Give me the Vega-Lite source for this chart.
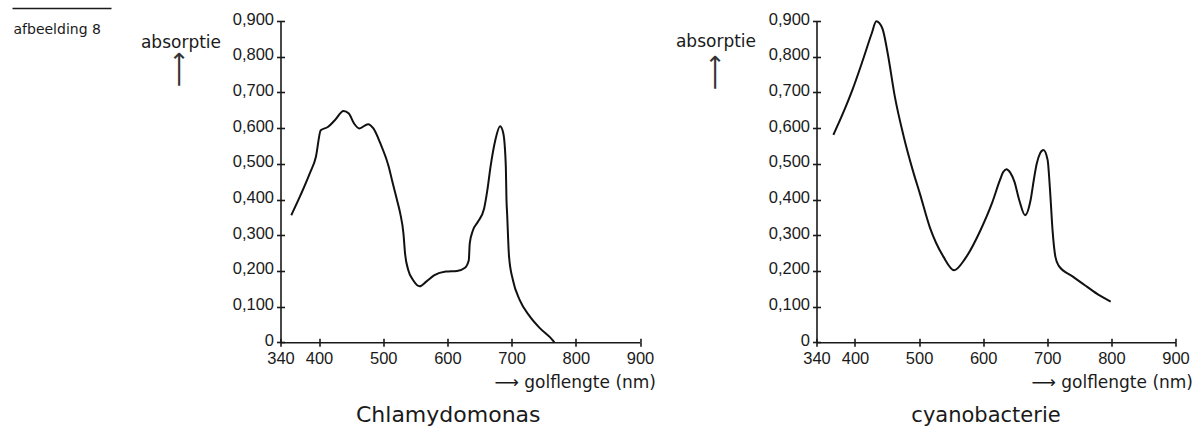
{
  "$schema": "https://vega.github.io/schema/vega-lite/v6.json",
  "background": "white",
  "padding": {"left": 12, "top": 8, "right": 0, "bottom": 0},
  "datasets": {
    "chlamy": [
      {"wavelength": 356.8, "absorption": 0.356},
      {"wavelength": 371.2, "absorption": 0.412},
      {"wavelength": 385.6, "absorption": 0.473},
      {"wavelength": 395.2, "absorption": 0.520},
      {"wavelength": 402.7, "absorption": 0.594},
      {"wavelength": 413.7, "absorption": 0.603},
      {"wavelength": 424.6, "absorption": 0.622},
      {"wavelength": 438.2, "absorption": 0.648},
      {"wavelength": 446.4, "absorption": 0.641},
      {"wavelength": 454.6, "absorption": 0.613},
      {"wavelength": 462.8, "absorption": 0.599},
      {"wavelength": 476.5, "absorption": 0.611},
      {"wavelength": 484.7, "absorption": 0.599},
      {"wavelength": 495.6, "absorption": 0.557},
      {"wavelength": 508.6, "absorption": 0.492},
      {"wavelength": 514.0, "absorption": 0.452},
      {"wavelength": 521.3, "absorption": 0.400},
      {"wavelength": 526.4, "absorption": 0.362},
      {"wavelength": 531.5, "absorption": 0.305},
      {"wavelength": 534.0, "absorption": 0.249},
      {"wavelength": 539.1, "absorption": 0.202},
      {"wavelength": 546.7, "absorption": 0.174},
      {"wavelength": 556.8, "absorption": 0.157},
      {"wavelength": 567.0, "absorption": 0.170},
      {"wavelength": 579.7, "absorption": 0.188},
      {"wavelength": 597.5, "absorption": 0.198},
      {"wavelength": 614.9, "absorption": 0.200},
      {"wavelength": 627.4, "absorption": 0.209},
      {"wavelength": 633.3, "absorption": 0.230},
      {"wavelength": 634.8, "absorption": 0.277},
      {"wavelength": 639.8, "absorption": 0.314},
      {"wavelength": 647.3, "absorption": 0.337},
      {"wavelength": 657.2, "absorption": 0.375},
      {"wavelength": 662.2, "absorption": 0.426},
      {"wavelength": 667.2, "absorption": 0.492},
      {"wavelength": 674.6, "absorption": 0.566},
      {"wavelength": 682.1, "absorption": 0.605},
      {"wavelength": 687.1, "absorption": 0.585},
      {"wavelength": 691.0, "absorption": 0.492},
      {"wavelength": 692.0, "absorption": 0.400},
      {"wavelength": 693.0, "absorption": 0.361},
      {"wavelength": 696.0, "absorption": 0.240},
      {"wavelength": 702.1, "absorption": 0.174},
      {"wavelength": 712.7, "absorption": 0.118},
      {"wavelength": 728.6, "absorption": 0.072},
      {"wavelength": 744.4, "absorption": 0.039},
      {"wavelength": 764.5, "absorption": 0.005},
      {"wavelength": 766.6, "absorption": 0.0}
    ],
    "cyano": [
      {"wavelength": 366.3, "absorption": 0.581},
      {"wavelength": 381.2, "absorption": 0.641},
      {"wavelength": 396.0, "absorption": 0.707},
      {"wavelength": 412.2, "absorption": 0.790},
      {"wavelength": 426.1, "absorption": 0.865},
      {"wavelength": 433.3, "absorption": 0.899},
      {"wavelength": 442.8, "absorption": 0.879},
      {"wavelength": 451.1, "absorption": 0.809},
      {"wavelength": 462.2, "absorption": 0.688},
      {"wavelength": 476.1, "absorption": 0.576},
      {"wavelength": 490.0, "absorption": 0.483},
      {"wavelength": 501.5, "absorption": 0.415},
      {"wavelength": 516.8, "absorption": 0.322},
      {"wavelength": 537.9, "absorption": 0.240},
      {"wavelength": 554.7, "absorption": 0.202},
      {"wavelength": 572.1, "absorption": 0.235},
      {"wavelength": 595.8, "absorption": 0.314},
      {"wavelength": 613.6, "absorption": 0.389},
      {"wavelength": 626.1, "absorption": 0.454},
      {"wavelength": 631.0, "absorption": 0.476},
      {"wavelength": 636.2, "absorption": 0.485},
      {"wavelength": 642.0, "absorption": 0.476},
      {"wavelength": 648.7, "absorption": 0.450},
      {"wavelength": 656.3, "absorption": 0.398},
      {"wavelength": 665.3, "absorption": 0.356},
      {"wavelength": 673.9, "absorption": 0.398},
      {"wavelength": 678.9, "absorption": 0.454},
      {"wavelength": 683.5, "absorption": 0.500},
      {"wavelength": 688.9, "absorption": 0.530},
      {"wavelength": 694.0, "absorption": 0.539},
      {"wavelength": 700.5, "absorption": 0.511},
      {"wavelength": 704.5, "absorption": 0.420},
      {"wavelength": 708.2, "absorption": 0.314},
      {"wavelength": 712.6, "absorption": 0.240},
      {"wavelength": 718.0, "absorption": 0.214},
      {"wavelength": 739.9, "absorption": 0.184},
      {"wavelength": 761.7, "absorption": 0.156},
      {"wavelength": 780.9, "absorption": 0.132},
      {"wavelength": 798.9, "absorption": 0.114}
    ]
  },
  "config": {
    "view": {"stroke": null},
    "font": "DejaVu Sans",
    "axis": {
      "grid": false,
      "domainColor": "#1a1a1a",
      "domainWidth": 1.6,
      "tickColor": "#1a1a1a",
      "tickWidth": 1.6,
      "tickSize": 4,
      "labelColor": "#1a1a1a",
      "labelFont": "Liberation Sans",
      "labelFontSize": 16.5,
      "labelOverlap": false,
      "labelFlush": false,
      "titleColor": "#1a1a1a",
      "titleFont": "DejaVu Sans",
      "titleFontSize": 17,
      "titleFontWeight": "normal"
    }
  },
  "bounds": "flush",
  "spacing": 169.5,
  "hconcat": [
    {
      "width": 99,
      "height": 1,
      "data": {"name": "chlamy"},
      "mark": {"type": "line", "strokeOpacity": 0},
      "encoding": {
        "x": {
          "field": "wavelength",
          "type": "quantitative",
          "scale": {"domain": [340, 900], "nice": false, "zero": false},
          "axis": {
            "orient": "bottom",
            "offset": -14,
            "ticks": false,
            "labels": false,
            "domainWidth": 1.4,
            "title": "afbeelding 8",
            "titleFontSize": 14,
            "titleAnchor": "start",
            "titleAlign": "left",
            "titleBaseline": "alphabetic",
            "titleX": 1,
            "titleY": 25
          }
        }
      }
    },
    {
      "bounds": "flush",
      "spacing": 176,
      "hconcat": [
        {
          "width": 359.5,
          "height": 321.3,
          "title": {"text": "Chlamydomonas", "orient": "bottom", "anchor": "middle", "font": "DejaVu Sans", "fontSize": 22, "fontWeight": "normal", "color": "#1a1a1a", "baseline": "alphabetic", "offset": 32, "dx": -12},
          "resolve": {"axis": {"x": "independent", "y": "independent"}},
          "layer": [
            {
              "data": {"name": "chlamy"},
              "mark": {"type": "line", "interpolate": "monotone", "color": "#111111", "strokeWidth": 2},
              "encoding": {
                "x": {
                  "field": "wavelength", "type": "quantitative",
                  "scale": {"domain": [340, 900], "nice": false, "zero": false},
                  "axis": {"orient": "bottom", "values": [340, 400, 500, 600, 700, 800, 900], "labelPadding": 4, "title": "⟶ golflengte (nm)", "titleAnchor": "end", "titleAlign": "right", "titleBaseline": "alphabetic", "titleX": 375, "titleY": 45}
                },
                "y": {
                  "field": "absorption", "type": "quantitative",
                  "scale": {"domain": [0, 0.9], "nice": false, "zero": true},
                  "axis": {"orient": "left", "values": [0, 0.1, 0.2, 0.3, 0.4, 0.5, 0.6, 0.7, 0.8, 0.9], "labelExpr": "datum.value === 0 ? '0' : replace(format(datum.value, '.3f'), '.', ',')", "labelPadding": 3, "labelOffset": -2, "title": "absorptie", "titleAngle": 0, "titleAlign": "center", "titleBaseline": "alphabetic", "titleX": -100, "titleY": 26}
                }
              }
            },
            {
              "data": {"name": "chlamy"},
              "mark": {"type": "line", "strokeOpacity": 0},
              "encoding": {
                "x": {
                  "field": "wavelength", "type": "quantitative",
                  "scale": {"domain": [340, 900], "nice": false, "zero": false},
                  "axis": {"orient": "top", "offset": -321.3, "values": [340, 400, 500, 600, 700, 800, 900], "labels": false, "domain": false, "title": null}
                },
                "y": {
                  "field": "absorption", "type": "quantitative",
                  "scale": {"domain": [0, 0.9], "nice": false, "zero": true},
                  "axis": {"orient": "right", "offset": -359.5, "values": [0, 0.1, 0.2, 0.3, 0.4, 0.5, 0.6, 0.7, 0.8, 0.9], "labels": false, "domain": false, "title": "⟶", "titleColor": "#333333", "titleFontSize": 25, "titleAngle": 270, "titleAlign": "center", "titleBaseline": "middle", "titleX": -102, "titleY": 48}
                }
              }
            }
          ]
        },
        {
          "width": 359,
          "height": 321.3,
          "title": {"text": "cyanobacterie", "orient": "bottom", "anchor": "middle", "font": "DejaVu Sans", "fontSize": 21, "fontWeight": "normal", "color": "#1a1a1a", "baseline": "alphabetic", "offset": 32, "dx": -10},
          "resolve": {"axis": {"x": "independent", "y": "independent"}},
          "layer": [
            {
              "data": {"name": "cyano"},
              "mark": {"type": "line", "interpolate": "monotone", "color": "#111111", "strokeWidth": 2},
              "encoding": {
                "x": {
                  "field": "wavelength", "type": "quantitative",
                  "scale": {"domain": [340, 900], "nice": false, "zero": false},
                  "axis": {"orient": "bottom", "values": [340, 400, 500, 600, 700, 800, 900], "labelPadding": 4, "title": "⟶ golflengte (nm)", "titleAnchor": "end", "titleAlign": "right", "titleBaseline": "alphabetic", "titleX": 376, "titleY": 45}
                },
                "y": {
                  "field": "absorption", "type": "quantitative",
                  "scale": {"domain": [0, 0.9], "nice": false, "zero": true},
                  "axis": {"orient": "left", "values": [0, 0.1, 0.2, 0.3, 0.4, 0.5, 0.6, 0.7, 0.8, 0.9], "labelExpr": "datum.value === 0 ? '0' : replace(format(datum.value, '.3f'), '.', ',')", "labelPadding": 3, "labelOffset": -2, "title": "absorptie", "titleAngle": 0, "titleAlign": "center", "titleBaseline": "alphabetic", "titleX": -101, "titleY": 25}
                }
              }
            },
            {
              "data": {"name": "cyano"},
              "mark": {"type": "line", "strokeOpacity": 0},
              "encoding": {
                "x": {
                  "field": "wavelength", "type": "quantitative",
                  "scale": {"domain": [340, 900], "nice": false, "zero": false},
                  "axis": {"orient": "top", "offset": -321.3, "values": [340, 400, 500, 600, 700, 800, 900], "labels": false, "domain": false, "title": null}
                },
                "y": {
                  "field": "absorption", "type": "quantitative",
                  "scale": {"domain": [0, 0.9], "nice": false, "zero": true},
                  "axis": {"orient": "right", "offset": -359, "values": [0, 0.1, 0.2, 0.3, 0.4, 0.5, 0.6, 0.7, 0.8, 0.9], "labels": false, "domain": false, "title": "⟶", "titleColor": "#333333", "titleFontSize": 25, "titleAngle": 270, "titleAlign": "center", "titleBaseline": "middle", "titleX": -102, "titleY": 51}
                }
              }
            }
          ]
        }
      ]
    }
  ]
}
